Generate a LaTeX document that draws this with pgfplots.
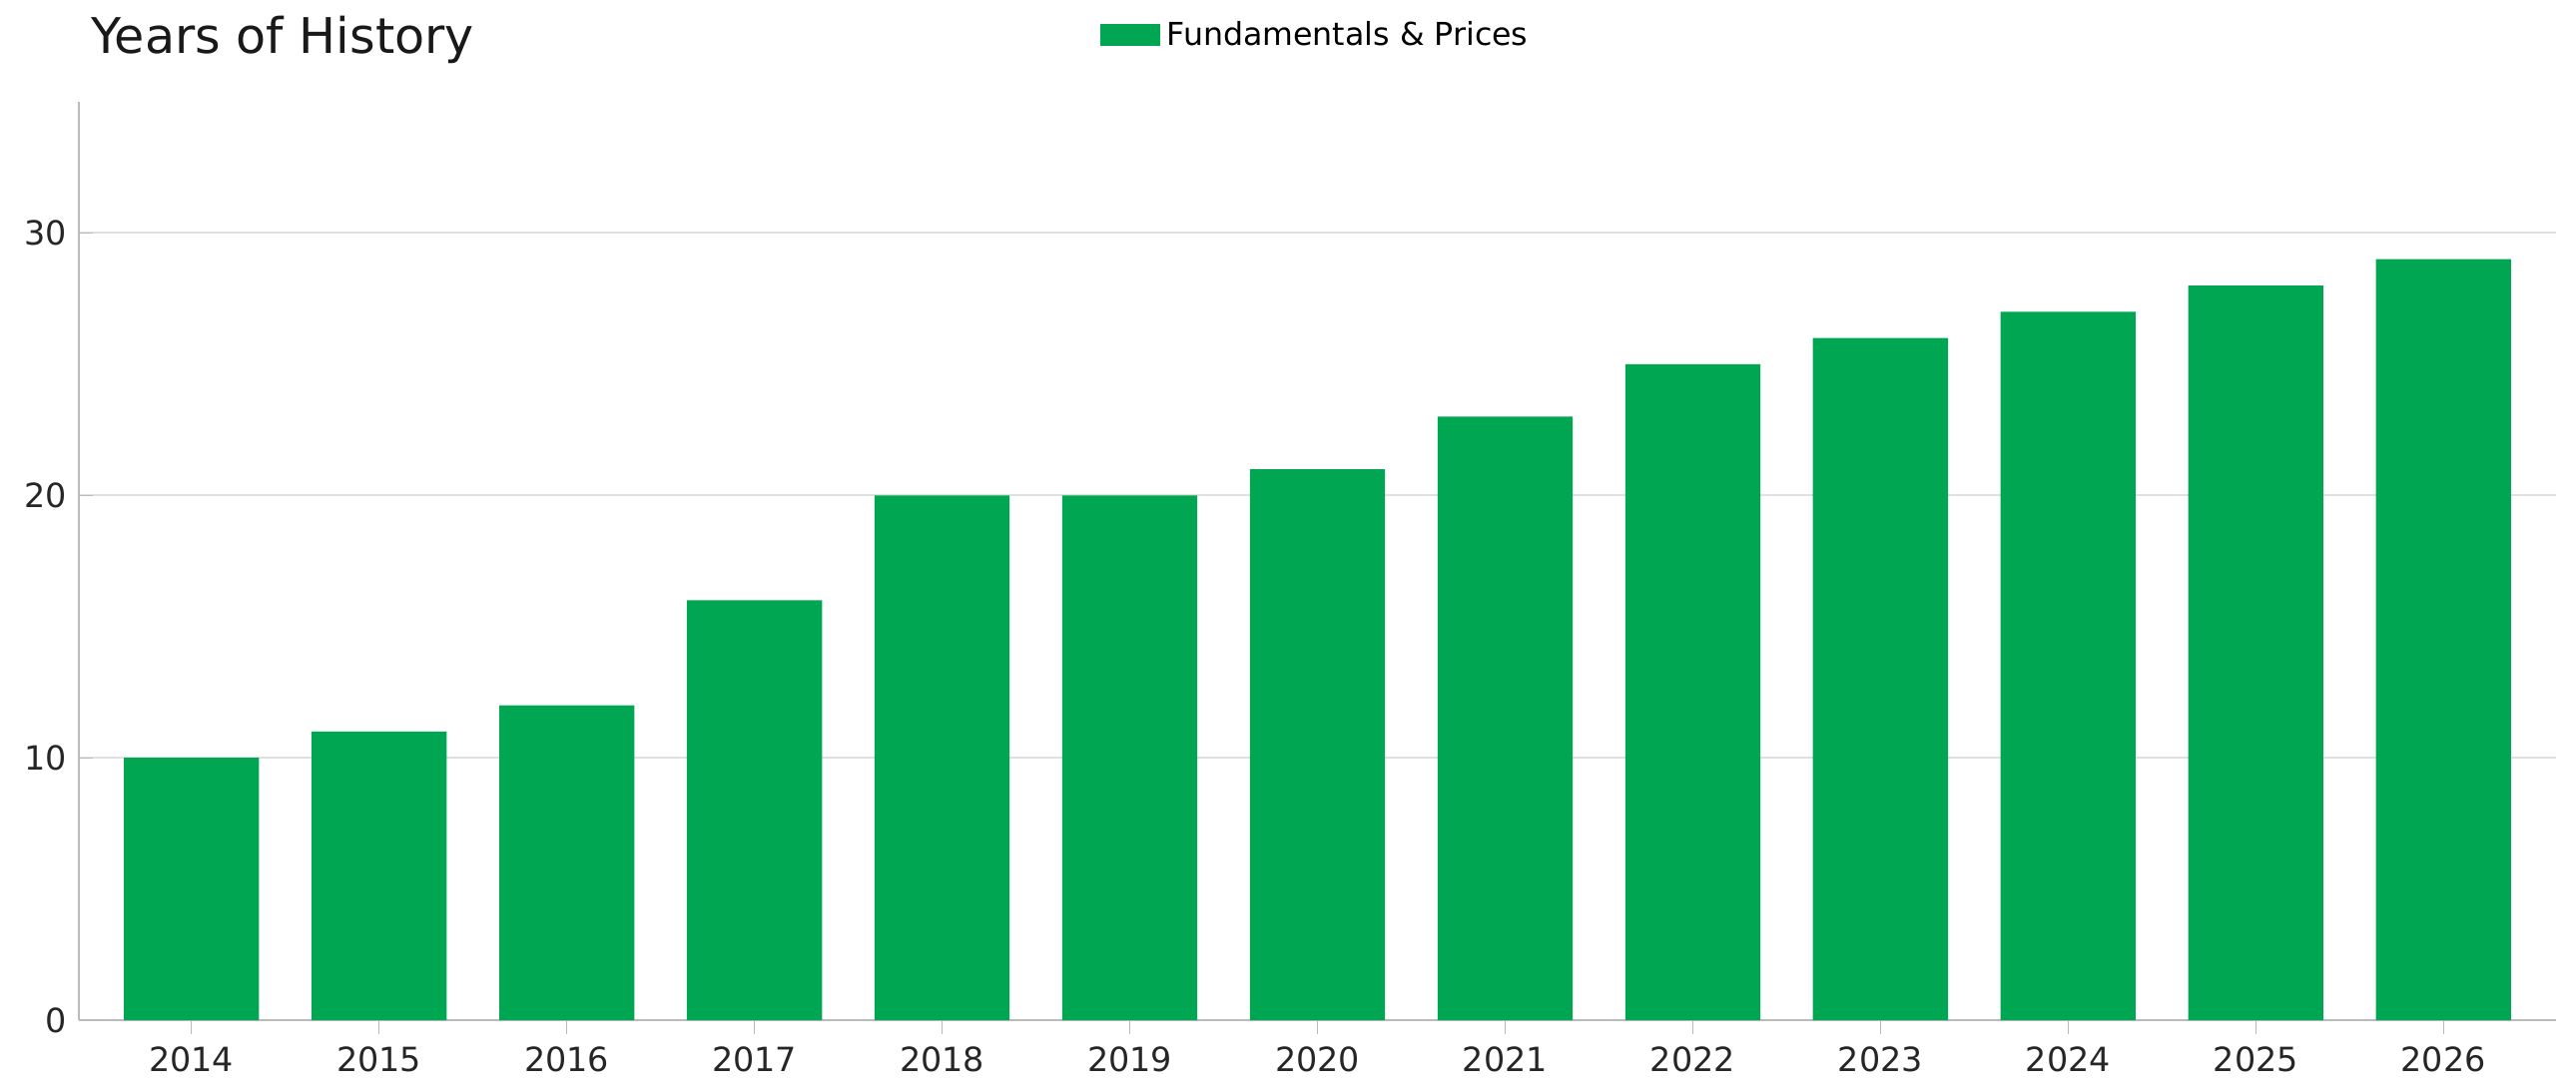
\documentclass[border=0pt]{standalone}
\usepackage{pgfplots}
\pgfplotsset{compat=1.18}
\usepackage{fontspec}
\setmainfont{DejaVu Sans}
\definecolor{bargreen}{HTML}{00A651}
\definecolor{gridc}{HTML}{E0E0E0}
\definecolor{axc}{HTML}{BBBBBB}
\begin{document}
\begin{tikzpicture}
\path[use as bounding box] (-0.79,-0.71) rectangle (25.01,10.22);
\begin{axis}[
  scale only axis, width=24.81cm, height=9.2cm,
  xmin=-0.6, xmax=12.6, ymin=0, ymax=35,
  ybar, bar width=1.353cm, bar shift=0pt,
  xtick={0,...,12},
  xticklabels={2014,2015,2016,2017,2018,2019,2020,2021,2022,2023,2024,2025,2026},
  ytick={0,10,20,30},
  ymajorgrids, grid style={gridc, line width=0.6pt},
  axis x line*=bottom, axis y line*=left,
  axis line style={axc, line width=0.6pt},
  tick style={axc}, major tick length=4pt,
  ticklabel style={font=\fontsize{9.5}{11}\selectfont, text=black!85},
  /pgf/number format/assume math mode=true,
  legend style={at={(0.5,1.04)}, anchor=south, draw=none, font=\fontsize{9}{11}\selectfont, fill=none},
  legend image code/.code={\fill[bargreen] (0cm,-0.1cm) rectangle (0.6cm,0.12cm);},
]
\addplot[fill=bargreen, draw=none] coordinates {(0,10)(1,11)(2,12)(3,16)(4,20)(5,20)(6,21)(7,23)(8,25)(9,26)(10,27)(11,28)(12,29)};
\addlegendentry{Fundamentals \& Prices}
\end{axis}
\node[anchor=west, font=\fontsize{14}{16}\selectfont, text=black!90] at (0,9.82) {Years of History};
\end{tikzpicture}
\end{document}
